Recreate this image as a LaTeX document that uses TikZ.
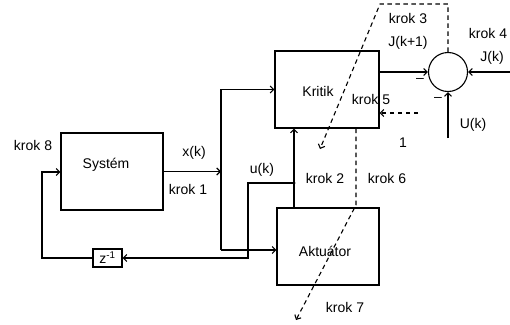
\documentclass[tikz,border=0pt]{standalone}
\usepackage{fontspec}
\setmainfont{Liberation Sans}
\usetikzlibrary{arrows.meta}
\begin{document}
\begin{tikzpicture}[x=1pt,y=-1pt,
  line width=1.1pt,
  font=\fontsize{14}{16}\selectfont,
  blk/.style={draw,inner sep=0pt},
  arr/.style={-{Straight Barb[length=3.5pt,width=7pt,line width=1.1pt]}},
  dsh/.style={dash pattern=on 4.5pt off 3.5pt},
  lbl/.style={inner sep=0pt}]
\useasboundingbox (0,0) rectangle (510,324);
% blocks
\node[blk,minimum width=102pt,minimum height=77pt] (sys) at (112,171.5) {};
\node[lbl] (tsys) at (106,165) {Systém};
\node[blk,minimum width=104pt,minimum height=77pt] (kri) at (327,89.5) {};
\node[lbl] (tkri) at (318,91) {Kritik};
\node[blk,minimum width=102pt,minimum height=77pt] (akt) at (328,246.5) {};
\node[lbl] (takt) at (325,251) {Aktuátor};
\node[blk,minimum width=29pt,minimum height=18pt] (z) at (107.5,258) {z\textsuperscript{-1}};
\node[draw,circle,minimum size=39pt,inner sep=0pt] (sum) at (448,72) {};
% coordinates
\coordinate (xa) at (221,89.5);
\coordinate (xb) at (221,250);
\coordinate (dot) at (294,183);
\coordinate (uc) at (248,183);
\coordinate (fb) at (42,172);
\coordinate (jr) at (510,72);
\coordinate (ub) at (448,138);
\coordinate (d1) at (448,4);
\coordinate (d2) at (380,4);
\coordinate (d3) at (320,149);
\coordinate (k5) at (418,113);
\coordinate (d4) at (356,205);
\coordinate (d5) at (296,320);
% solid connectors
\draw[arr] (sys.east) -- (sys.east -| xa);
\draw[arr] (xb) -- (xa) -- (kri.west);
\draw[arr] (xb) -- (akt.west |- xb);
\draw[arr] (akt.north -| dot) -- (kri.south -| dot);
\fill (dot) circle (1.7pt);
\draw[arr] (dot) -- (uc) |- (z.east);
\draw[arr] (z.west) -| (fb) -- (sys.west |- fb);
\draw[arr] (kri.east |- sum) -- (sum.west);
\draw[arr] (jr) -- (sum.east);
\draw[arr] (ub) -- (sum.south);
% dashed
\draw[dsh,arr] (sum.north) -- (d1) -- (d2) -- (d3);
\draw[dsh,arr] (k5) -- (kri.east |- k5);
\draw[dsh,arr] (kri.south -| d4) -- (d4) -- (d5);
% labels
\node[lbl] at (408,18) {krok 3};
\node[lbl] at (408,43) {J(k+1)};
\node[lbl] at (488,33) {krok 4};
\node[lbl] at (492,58) {J(k)};
\node[lbl] at (420,80) {–};
\node[lbl] at (438,99) {–};
\node[lbl] at (473,125) {U(k)};
\node[lbl] at (371,99) {krok 5};
\node[lbl] at (403,143) {1};
\node[lbl] at (33,145) {krok 8};
\node[lbl] at (194,153) {x(k)};
\node[lbl] at (188,189) {krok 1};
\node[lbl] at (262,170) {u(k)};
\node[lbl] at (325,178) {krok 2};
\node[lbl] at (387,178) {krok 6};
\node[lbl] at (345,307) {krok 7};
\end{tikzpicture}
\end{document}
